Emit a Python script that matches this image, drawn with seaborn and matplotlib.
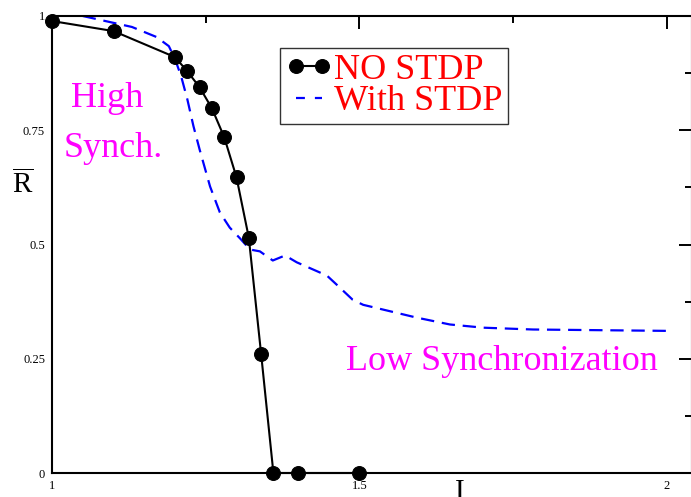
import numpy as np
import pandas as pd
import matplotlib
matplotlib.use("Agg")
import matplotlib.pyplot as plt
import seaborn as sns
from matplotlib.ticker import FixedLocator

# Order parameter R (time averaged) versus input current I
i_no_stdp = [1.00, 1.10, 1.20, 1.22, 1.24, 1.26, 1.28, 1.30, 1.32, 1.34, 1.36, 1.40, 1.50]
r_no_stdp = [0.989, 0.967, 0.910, 0.879, 0.844, 0.798, 0.735, 0.647, 0.515, 0.261, 0.0, 0.0, 0.0]

i_stdp = [1.05, 1.10, 1.13, 1.17, 1.19, 1.20, 1.21, 1.22, 1.23, 1.24, 1.257, 1.273,
          1.289, 1.306, 1.322, 1.338, 1.359, 1.379, 1.398, 1.447, 1.463, 1.489,
          1.506, 1.593, 1.647, 1.701, 1.782, 2.00]
r_stdp = [1.000, 0.985, 0.976, 0.954, 0.934, 0.906, 0.868, 0.818, 0.759, 0.708, 0.627, 0.570,
          0.537, 0.513, 0.489, 0.485, 0.465, 0.476, 0.461, 0.432, 0.412, 0.379,
          0.368, 0.340, 0.325, 0.318, 0.314, 0.311]

x_ticks = [1, 1.5, 2]
x_tick_labels = ["1", "1.5", "2"]
y_ticks = [0, 0.25, 0.5, 0.75, 1]
y_tick_labels = ["0", "0.25", "0.5", "0.75", "1"]

label_no = "NO STDP"
label_with = "With STDP"

sns.set_theme(style="white")
plt.rcParams["font.family"] = ["Liberation Serif", "DejaVu Serif"]
plt.rcParams["mathtext.fontset"] = "custom"
plt.rcParams["mathtext.rm"] = "Liberation Serif"

W, H, DPI = 691, 497, 100
fig = plt.figure(figsize=(W / DPI, H / DPI), dpi=DPI)
ax = fig.add_axes([52 / W, (H - 473) / H, 640 / W, 457 / H])

df_no = pd.DataFrame({"I": i_no_stdp, "R": r_no_stdp})
df_with = pd.DataFrame({"I": i_stdp, "R": r_stdp})

sns.lineplot(data=df_no, x="I", y="R", ax=ax, color="black", linewidth=1.5,
             marker="o", markersize=10, markeredgecolor="black",
             label=label_no, sort=False, estimator=None, zorder=3, clip_on=False)
sns.lineplot(data=df_with, x="I", y="R", ax=ax, color="#0000ff", linewidth=1.6,
             linestyle=(0, (6, 3.5)), label=label_with, sort=False,
             estimator=None, zorder=2)

ax.set_xlim(1, 1 + 640 / 615)
ax.set_ylim(0, 1)

ax.xaxis.set_major_locator(FixedLocator(x_ticks))
ax.xaxis.set_minor_locator(FixedLocator([1.25, 1.75]))
ax.set_xticklabels(x_tick_labels)
ax.yaxis.set_major_locator(FixedLocator(y_ticks))
ax.yaxis.set_minor_locator(FixedLocator([0.125, 0.375, 0.625, 0.875]))
ax.set_yticklabels(y_tick_labels)

ax.tick_params(which="both", direction="in", top=True, right=True,
               width=1.4, colors="black", labelsize=9)
ax.tick_params(which="major", length=9.4, pad=5)
ax.tick_params(which="minor", length=5)
for s in ax.spines.values():
    s.set_linewidth(1.5)
    s.set_color("black")

ax.set_xlabel("")
ax.set_ylabel("")

# Axis labels
fig.text(23 / W, 1 - 185 / H, r"$\overline{\mathrm{R}}$", fontsize=21,
         ha="center", va="center", color="black")
fig.text(460 / W, 1 - 479 / H, "I", fontsize=21, ha="center", va="top",
         color="black")

# Region annotations
ax.text(1.09, 0.82, "High", fontsize=26, color="#ff00ff", ha="center",
        va="center")
ax.text(1.10, 0.711, "Synch.", fontsize=26, color="#ff00ff", ha="center",
        va="center")
ax.text(1.478, 0.243, "Low Synchronization", fontsize=26, color="#ff00ff",
        ha="left", va="center")

leg = ax.legend(loc="upper left", bbox_to_anchor=(280 / W, 1 - 48 / H),
                bbox_transform=fig.transFigure, fontsize=26, numpoints=2,
                handlelength=1.3, handletextpad=0.05, borderpad=0.15,
                labelspacing=-0.05, borderaxespad=0, fancybox=False,
                framealpha=1, edgecolor="#333333")
leg.get_frame().set_linewidth(1.0)
for t in leg.get_texts():
    t.set_color("red")
for h in leg.legend_handles:
    if h.get_label() == label_with:
        h.set_dashes((4, 4.5))

fig.savefig("out.png", dpi=DPI)
